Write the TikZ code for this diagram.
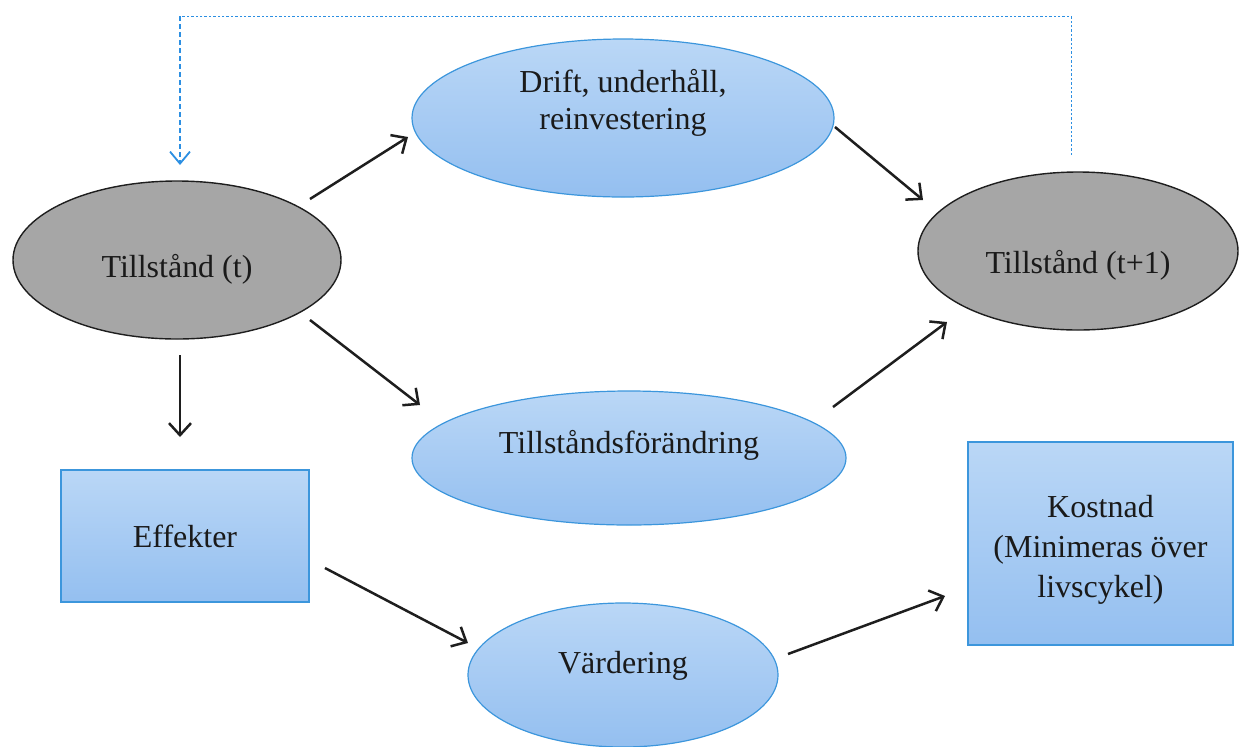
\documentclass[tikz,border=0pt]{standalone}
\usepackage{fontspec}
\setmainfont{Liberation Serif}
\usetikzlibrary{shapes.geometric,arrows.meta,calc}
\definecolor{grayfill}{HTML}{A6A6A6}
\definecolor{grayline}{HTML}{1E1E1E}
\definecolor{bluetop}{HTML}{BAD7F6}
\definecolor{bluebot}{HTML}{94BFF0}
\definecolor{blueline}{HTML}{3C96DC}
\definecolor{fbblue}{HTML}{2C8FE2}
\definecolor{txt}{HTML}{1A1A1A}
\tikzset{
  grayell/.style={ellipse, draw=grayline, line width=0.7pt, fill=grayfill, inner sep=0pt, text=txt, font=\fontsize{16}{19}\selectfont},
  blueell/.style={ellipse, draw=blueline, line width=0.6pt, top color=bluetop, bottom color=bluebot, inner sep=0pt, text=txt, font=\fontsize{16}{18.5}\selectfont},
  bluebox/.style={rectangle, draw=blueline, line width=0.6pt, top color=bluetop, bottom color=bluebot, inner sep=0pt, text=txt, font=\fontsize{16}{20}\selectfont},
  arr/.style={line width=1.25pt, draw=grayline, -{Straight Barb[length=6pt,width=11pt,line width=1.25pt]}},
  fbfine/.style={draw=fbblue, line width=0.5pt, dash pattern=on 1.2pt off 1pt},
  fbdash/.style={draw=fbblue, line width=0.9pt, dash pattern=on 2.6pt off 1.4pt, -{Straight Barb[length=6pt,width=10pt,line width=0.9pt]}}
}
\begin{document}
\begin{tikzpicture}[x=0.5pt,y=-0.5pt]
\useasboundingbox (0,0) rectangle (1239,746);
% nodes
\node[grayell, minimum width=164pt, minimum height=79pt] (tt) at (177,260) {\raisebox{-21pt}{Tillstånd (t)}};
\node[blueell, minimum width=211pt, minimum height=79pt] (drift) at (623,118) {\raisebox{29pt}{\begin{tabular}{@{}c@{}}Drift, underhåll,\\ reinvestering\end{tabular}}};
\node[grayell, minimum width=160pt, minimum height=79pt] (tt1) at (1078,251) {\raisebox{-26pt}{Tillstånd (t+1)}};
\node[blueell, minimum width=217pt, minimum height=67pt] (tf) at (629,458) {\raisebox{16pt}{Tillståndsförändring}};
\node[blueell, minimum width=155pt, minimum height=72pt] (vard) at (623,675) {\raisebox{13pt}{Värdering}};
\node[bluebox, minimum width=124pt, minimum height=66pt] (eff) at (185,536) {Effekter};
\node[bluebox, minimum width=132.5pt, minimum height=101.5pt] (kost) at (1100.5,543.5) {\raisebox{-7.5pt}[0pt][0pt]{\begin{tabular}{@{}c@{}}Kostnad\\(Minimeras över\\livscykel)\end{tabular}}};
% connectors
\draw[arr] ([shift={(133,-61)}]tt.center) -- ([shift={(-215,19)}]drift.center);
\draw[arr] ([shift={(212,9)}]drift.center) -- ([shift={(-155,-51)}]tt1.center);
\draw[arr] ([shift={(133,60)}]tt.center) -- ([shift={(-209,-53)}]tf.center);
\draw[arr] ([shift={(204,-51)}]tf.center) -- ([shift={(-131,71)}]tt1.center);
\draw[arr] ([shift={(3,95)}]tt.center) -- ([shift={(-5,-99)}]eff.center);
\draw[arr] ([shift={(140,32)}]eff.center) -- ([shift={(-155,-32)}]vard.center);
\draw[arr] ([shift={(165,-21)}]vard.center) -- ([shift={(-155.5,52.5)}]kost.center);
% feedback
\coordinate (fbtop) at (180,16);
\draw[fbfine] ([shift={(-7,-96)}]tt1.center) |- (fbtop);
\draw[fbdash] (fbtop) -- ([shift={(3,-95)}]tt.center);
\end{tikzpicture}
\end{document}
